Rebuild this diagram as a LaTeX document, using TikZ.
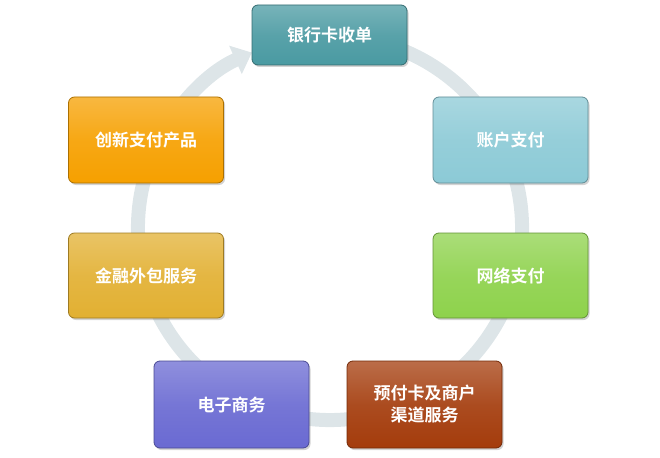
\documentclass[tikz,border=0pt]{standalone}
\usepackage{fontspec}
\newfontfamily\cjk{Noto Sans CJK SC}[BoldFont={* Bold}]
\usetikzlibrary{arrows.meta,shadows}
\definecolor{c1}{HTML}{4A9AA2}
\definecolor{c2}{HTML}{8CCAD6}
\definecolor{c3}{HTML}{8ED24C}
\definecolor{c4}{HTML}{A43C0C}
\definecolor{c5}{HTML}{6A6AD2}
\definecolor{c6}{HTML}{E2B032}
\definecolor{c7}{HTML}{F6A000}
\definecolor{ringc}{HTML}{DDE5E8}
\tikzset{
  box/.style={rounded corners=6pt,minimum width=155pt,minimum height=60pt,
    draw=#1!70!black,line width=0.8pt,top color=#1!75!white,bottom color=#1,middle color=#1!92!white,
    text=white,font=\cjk\bfseries\fontsize{17}{22}\selectfont,align=center,
    drop shadow={shadow xshift=1.5pt,shadow yshift=-2pt,opacity=0.35}},
  ring/.style={draw=ringc,line width=14pt}
}
\begin{document}
\begin{tikzpicture}[x=1pt,y=-1pt]
\useasboundingbox (0,0) rectangle (660,457);
\draw[ring,-{Triangle[width=30pt,length=18pt]}] (330,228) ++(-70:192) arc[start angle=-70,end angle=246,radius=192];
\node[box=c1,minimum height=60pt] (a) at (329.5,35) {银行卡收单};
\node[box=c2,minimum height=86pt] (b) at (510.5,140) {账户支付};
\node[box=c3,minimum height=85pt] (c) at (510.5,275.5) {网络支付};
\node[box=c4,minimum height=87pt] (d) at (424.5,404.5) {预付卡及商户\\渠道服务};
\node[box=c5,minimum height=87pt] (e) at (231.5,404.5) {电子商务};
\node[box=c6,minimum height=85pt] (f) at (146,275.5) {金融外包服务};
\node[box=c7,minimum height=86pt] (g) at (146,140) {创新支付产品};
\end{tikzpicture}
\end{document}
